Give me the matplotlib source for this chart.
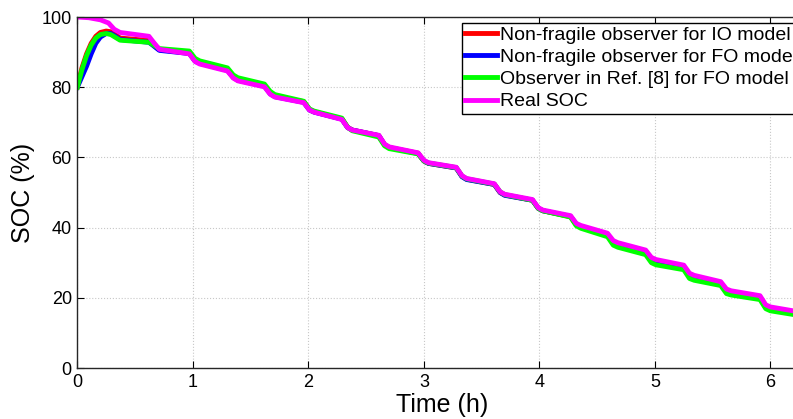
import numpy as np
import matplotlib
matplotlib.use('Agg')
import matplotlib.pyplot as plt

matplotlib.rc('font', family='Liberation Sans', size=13)

# time axes (h)
t_real = [0.00, 0.10, 0.20, 0.27, 0.32, 0.37, 0.62,
          0.66, 0.71, 0.97, 1.02, 1.06, 1.30, 1.35, 1.39, 1.62, 1.67, 1.71,
          1.96, 2.01, 2.05, 2.29, 2.34, 2.38, 2.61, 2.66, 2.70, 2.95, 3.00,
          3.04, 3.28, 3.33, 3.37, 3.61, 3.66, 3.70, 3.94, 3.99, 4.03, 4.27,
          4.32, 4.36, 4.59, 4.64, 4.68, 4.92, 4.97, 5.01, 5.25, 5.30, 5.34,
          5.57, 5.62, 5.66, 5.91, 5.96, 6.00, 6.32]
t_obs = [0.00, 0.04, 0.08, 0.12, 0.16, 0.20, 0.25, 0.29, 0.33, 0.37, 0.62,
         0.66, 0.71, 0.97, 1.02, 1.06, 1.30, 1.35, 1.39, 1.62, 1.67, 1.71,
         1.96, 2.01, 2.05, 2.29, 2.34, 2.38, 2.61, 2.66, 2.70, 2.95, 3.00,
         3.04, 3.28, 3.33, 3.37, 3.61, 3.66, 3.70, 3.94, 3.99, 4.03, 4.27,
         4.32, 4.36, 4.59, 4.64, 4.68, 4.92, 4.97, 5.01, 5.25, 5.30, 5.34,
         5.57, 5.62, 5.66, 5.91, 5.96, 6.00, 6.32]

soc_real = [100.0, 99.8, 99.2, 98.3, 96.5, 95.6, 94.5,
            92.8, 90.8, 89.5, 87.3, 86.6, 84.6, 82.6, 81.8, 80.1, 78.0, 77.2,
            75.6, 73.5, 72.9, 70.8, 68.5, 67.8, 66.3, 63.8, 63.0, 61.3, 59.2,
            58.5, 57.2, 54.8, 54.0, 52.5, 50.2, 49.5, 48.0, 45.7, 45.0, 43.4,
            41.2, 40.6, 38.4, 36.3, 35.7, 33.6, 31.5, 30.9, 29.3, 27.0, 26.4,
            24.6, 22.5, 22.0, 20.6, 18.0, 17.4, 15.6]
soc_io = [80.0, 85.5, 89.5, 92.5, 94.5, 95.6, 96.0, 95.8, 95.0, 94.0, 93.3,
          92.0, 90.7, 89.7, 87.5, 86.9, 84.9, 82.8, 82.0, 80.4, 78.3, 77.4,
          75.9, 73.6, 73.0, 71.0, 68.6, 67.8, 66.2, 63.6, 62.8, 61.2, 59.0,
          58.3, 57.0, 54.6, 53.8, 52.3, 50.0, 49.3, 47.8, 45.5, 44.8, 43.1,
          40.8, 40.1, 37.9, 35.6, 35.0, 32.8, 30.6, 30.0, 28.6, 26.3, 25.7,
          24.0, 21.8, 21.2, 20.0, 17.2, 16.6, 15.0]
soc_fo = [80.0, 83.0, 86.0, 89.5, 92.5, 94.3, 95.3, 95.3, 94.5, 93.6, 92.8,
          91.8, 90.5, 89.6, 87.4, 86.8, 84.8, 82.8, 82.0, 80.3, 78.1, 77.3,
          75.7, 73.5, 72.9, 70.9, 68.5, 67.8, 66.2, 63.6, 62.8, 61.1, 59.0,
          58.3, 57.0, 54.5, 53.7, 52.3, 50.0, 49.2, 47.8, 45.5, 44.8, 43.2,
          40.9, 40.2, 38.0, 35.8, 35.2, 33.0, 30.8, 30.2, 28.7, 26.4, 25.8,
          24.0, 22.0, 21.4, 20.2, 17.5, 16.9, 15.2]
soc_ref8 = [80.0, 85.0, 89.0, 92.0, 94.0, 95.0, 95.3, 95.0, 94.2, 93.4, 92.8,
            92.0, 91.0, 90.3, 88.2, 87.5, 85.5, 83.5, 82.7, 80.9, 78.8, 77.9,
            76.0, 73.8, 73.2, 71.2, 68.6, 67.6, 65.8, 63.3, 62.5, 61.0, 59.0,
            58.4, 57.1, 54.7, 53.9, 52.4, 50.2, 49.4, 47.8, 45.5, 44.8, 43.0,
            40.5, 39.8, 37.4, 35.0, 34.4, 32.3, 30.0, 29.4, 28.0, 25.5, 25.0,
            23.5, 21.2, 20.8, 19.5, 16.9, 16.3, 14.6]

labels = ['Non-fragile observer for IO model', 'Non-fragile observer for FO model',
          'Observer in Ref. [8] for FO model', 'Real SOC']

fig = plt.figure(figsize=(7.93, 4.19), dpi=100)
# the original figure is cropped on the right, so the axes runs past the edge
ax = fig.add_axes([0.0975, 0.1217, 0.9206, 0.8377])

lw = 3.5
ax.plot(t_obs, soc_io, color='#ff0000', lw=lw, label=labels[0])
ax.plot(t_obs, soc_fo, color='#0000ff', lw=lw, label=labels[1])
ax.plot(t_obs, soc_ref8, color='#00ff00', lw=lw, label=labels[2])
ax.plot(t_real, soc_real, color='#ff00ff', lw=lw, label=labels[3])

ax.set_xlim(0, 6.32)
ax.set_ylim(0, 100)
ax.set_xticks(np.arange(0, 7, 1))
ax.set_yticks(np.arange(0, 101, 20))
ax.tick_params(direction='in', length=5, top=True, right=True, labelsize=13, pad=4)
ax.grid(True, linestyle=':', color='#c8c8c8', linewidth=0.8)
for s in ax.spines.values():
    s.set_color('#262626')
    s.set_linewidth(1.0)
ax.set_xlabel('Time (h)', fontsize=18, labelpad=2)
ax.set_ylabel('SOC (%)', fontsize=18, labelpad=5)

leg = ax.legend(loc='upper left', bbox_to_anchor=(0.582, 0.946),
                bbox_transform=fig.transFigure, fontsize=14, frameon=True,
                fancybox=False, framealpha=1, edgecolor='black',
                handlelength=1.6, handletextpad=0.2, labelspacing=0.23,
                borderpad=0.2, borderaxespad=0)
leg.get_frame().set_linewidth(1.0)

plt.savefig('out.png', dpi=100)
